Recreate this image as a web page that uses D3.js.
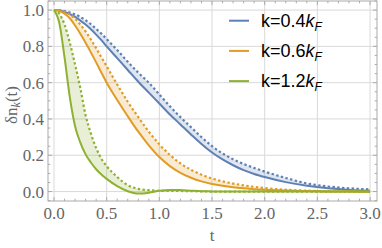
<!DOCTYPE html>
<html>
<head>
<meta charset="utf-8">
<script src="https://cdn.jsdelivr.net/npm/d3@7"></script>
<style>
  body { margin: 0; background: #fff; }
  .tick { font-family: "Liberation Serif", serif; font-size: 17px; fill: #666; }
  .axis-label { font-family: "Liberation Serif", serif; font-size: 17px; fill: #666; }
  .legend text { font-family: "Liberation Sans", Arial, sans-serif; font-size: 18px; fill: #000; }
</style>
</head>
<body>
<svg id="chart" width="382" height="248" viewBox="0 0 382 248"></svg>
<script>
/* ── data ────────────────────────────────────────────────────────────────── */

const T = [0, 0.05, 0.1, 0.15, 0.2, 0.25, 0.3, 0.35, 0.4, 0.45, 0.5, 0.6, 0.7,
  0.8, 0.9, 1.0, 1.1, 1.2, 1.3, 1.4, 1.5, 1.6, 1.7, 1.8, 1.9, 2.0, 2.2, 2.4,
  2.6, 2.8, 3.0];

const K04_SOLID = [1, 0.998, 0.99, 0.978, 0.962, 0.942, 0.92, 0.894, 0.865,
  0.834, 0.8, 0.735, 0.67, 0.605, 0.545, 0.485, 0.425, 0.37, 0.315, 0.262,
  0.215, 0.177, 0.145, 0.118, 0.097, 0.08, 0.052, 0.032, 0.018, 0.009, 0.004];
const K04_DOTTED = [1, 0.999, 0.995, 0.987, 0.976, 0.962, 0.944, 0.922, 0.897,
  0.87, 0.84, 0.78, 0.715, 0.655, 0.6, 0.535, 0.47, 0.41, 0.355, 0.3, 0.25,
  0.21, 0.178, 0.152, 0.13, 0.11, 0.075, 0.045, 0.028, 0.018, 0.012];

const K06_SOLID = [1, 0.995, 0.98, 0.955, 0.915, 0.87, 0.82, 0.767, 0.712,
  0.655, 0.6, 0.505, 0.415, 0.33, 0.255, 0.19, 0.14, 0.103, 0.076, 0.056,
  0.042, 0.032, 0.024, 0.018, 0.013, 0.01, 0.006, 0.003, 0.001, 0, -0.002];
const K06_DOTTED = [1, 0.998, 0.99, 0.975, 0.952, 0.92, 0.882, 0.838, 0.79,
  0.74, 0.69, 0.59, 0.495, 0.41, 0.33, 0.26, 0.202, 0.155, 0.12, 0.093, 0.072,
  0.056, 0.044, 0.034, 0.026, 0.019, 0.01, 0.005, 0.002, 0.001, 0];

const K12_SOLID = [1, 0.93, 0.74, 0.52, 0.36, 0.27, 0.205, 0.16, 0.123,
  0.094, 0.07, 0.03, 0.002, -0.011, -0.006, 0.004, 0.009, 0.008, 0.005, 0.002,
  0.001, 0, 0, 0, 0, 0, 0, 0, 0, 0, 0];
const K12_DOTTED = [1, 0.98, 0.92, 0.82, 0.7, 0.57, 0.42, 0.32, 0.24, 0.18,
  0.14, 0.08, 0.035, 0.015, 0.008, 0.004, 0.004, 0.003, 0.002, 0.001, 0, 0, 0,
  0, 0, 0, 0, 0, 0, 0, 0];

const SERIES = ["0.4", "0.6", "1.2"];
const SOLID = [K04_SOLID, K06_SOLID, K12_SOLID];
const DOTTED = [K04_DOTTED, K06_DOTTED, K12_DOTTED];
const COLORS = ["#5e81b5", "#e19c24", "#8fb131"];

const X_TICKS = [0, 0.5, 1.0, 1.5, 2.0, 2.5, 3.0];
const Y_TICKS = [0, 0.2, 0.4, 0.6, 0.8, 1.0];

/* ── frame + scales ──────────────────────────────────────────────────────── */

const svg = d3.select("#chart");
const m = { top: 1, right: 5, bottom: 47, left: 48 };
const W = 382 - m.left - m.right;
const H = 248 - m.top - m.bottom;

const x = d3.scaleLinear().domain([-0.057, 3.066]).range([0, W]);
const y = d3.scaleLinear().domain([-0.052, 1.05]).range([H, 0]);

const g = svg.append("g").attr("transform", `translate(${m.left},${m.top})`);

g.append("clipPath").attr("id", "clip")
  .append("rect").attr("width", W).attr("height", H);

// grid
X_TICKS.forEach((t) => {
  g.append("line")
    .attr("x1", x(t)).attr("x2", x(t)).attr("y1", 0).attr("y2", H)
    .attr("stroke", "#d9d9d9").attr("stroke-width", 1);
});
Y_TICKS.forEach((v) => {
  g.append("line")
    .attr("x1", 0).attr("x2", W).attr("y1", y(v)).attr("y2", y(v))
    .attr("stroke", "#d9d9d9").attr("stroke-width", 1);
});

/* ── curves ──────────────────────────────────────────────────────────────── */

const plot = g.append("g").attr("clip-path", "url(#clip)");

SERIES.forEach((k, i) => {
  const pts = T.map((t, j) => ({ t, a: SOLID[i][j], b: DOTTED[i][j] }));

  const area = d3.area()
    .x((d) => x(d.t)).y0((d) => y(d.a)).y1((d) => y(d.b))
    .curve(d3.curveMonotoneX);
  plot.append("path").datum(pts)
    .attr("d", area)
    .attr("fill", COLORS[i]).attr("fill-opacity", 0.2);
});

SERIES.forEach((k, i) => {
  const pts = T.map((t, j) => ({ t, a: SOLID[i][j], b: DOTTED[i][j] }));
  const solid = d3.line().x((d) => x(d.t)).y((d) => y(d.a)).curve(d3.curveMonotoneX);
  const dotted = d3.line().x((d) => x(d.t)).y((d) => y(d.b)).curve(d3.curveMonotoneX);

  plot.append("path").datum(pts)
    .attr("d", dotted).attr("fill", "none")
    .attr("stroke", COLORS[i]).attr("stroke-width", 2.2)
    .attr("stroke-dasharray", "2.4,2.4");
  plot.append("path").datum(pts)
    .attr("d", solid).attr("fill", "none")
    .attr("stroke", COLORS[i]).attr("stroke-width", 2);
});

/* ── frame, ticks, labels ────────────────────────────────────────────────── */

g.append("rect")
  .attr("width", W).attr("height", H)
  .attr("fill", "none").attr("stroke", "#aaa").attr("stroke-width", 1);

const xMinor = d3.range(0, 3.05, 0.1);
const yMinor = d3.range(-0.05, 1.051, 0.05);

xMinor.forEach((t) => {
  const major = X_TICKS.some((v) => Math.abs(v - t) < 1e-6);
  const len = major ? 4 : 2.3;
  g.append("line").attr("x1", x(t)).attr("x2", x(t)).attr("y1", H).attr("y2", H - len)
    .attr("stroke", "#aaa");
  g.append("line").attr("x1", x(t)).attr("x2", x(t)).attr("y1", 0).attr("y2", len)
    .attr("stroke", "#aaa");
});
yMinor.forEach((v) => {
  const major = Y_TICKS.some((u) => Math.abs(u - v) < 1e-6);
  const len = major ? 4 : 2.3;
  g.append("line").attr("x1", 0).attr("x2", len).attr("y1", y(v)).attr("y2", y(v))
    .attr("stroke", "#aaa");
  g.append("line").attr("x1", W).attr("x2", W - len).attr("y1", y(v)).attr("y2", y(v))
    .attr("stroke", "#aaa");
});

X_TICKS.forEach((t) => {
  g.append("text").attr("class", "tick")
    .attr("x", x(t)).attr("y", H + 18)
    .attr("text-anchor", "middle")
    .text(d3.format(".1f")(t));
});
Y_TICKS.forEach((v) => {
  g.append("text").attr("class", "tick")
    .attr("x", -4).attr("y", y(v)).attr("dy", "0.35em")
    .attr("text-anchor", "end")
    .text(d3.format(".1f")(v));
});

// x label
svg.append("text").attr("class", "axis-label")
  .attr("x", m.left + x(1.5)).attr("y", 241)
  .attr("text-anchor", "middle").text("t");

// y label
const yl = svg.append("text").attr("class", "axis-label")
  .attr("transform", "translate(17,105) rotate(-90)")
  .attr("text-anchor", "middle");
yl.append("tspan").text("δn");
yl.append("tspan").attr("font-size", "12px").attr("font-style", "italic")
  .attr("dy", 3).text("k");
yl.append("tspan").attr("dy", -3).text("(t)");

/* ── legend ──────────────────────────────────────────────────────────────── */

const legend = svg.append("g").attr("class", "legend");
SERIES.forEach((k, i) => {
  const cy = 20.7 + i * 30.2;
  legend.append("line")
    .attr("x1", 229).attr("x2", 249).attr("y1", cy).attr("y2", cy)
    .attr("stroke", COLORS[i]).attr("stroke-width", 2);
  const txt = legend.append("text").attr("x", 261).attr("y", cy + 6.2);
  txt.append("tspan").text(`k=${k}`);
  txt.append("tspan").attr("font-style", "italic").text("k");
  txt.append("tspan").attr("font-style", "italic").attr("font-size", "12px")
    .attr("dy", 4).text("F");
});
</script>
</body>
</html>
